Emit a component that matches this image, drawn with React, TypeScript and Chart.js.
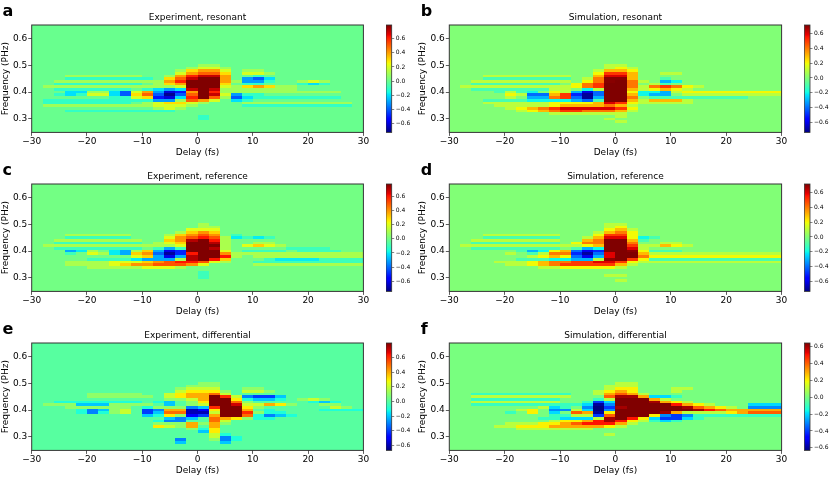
import React, { useEffect, useRef } from "react";
import { Chart, registerables } from "chart.js";

Chart.register(...registerables);
Chart.defaults.font.family = "'DejaVu Sans', sans-serif";
Chart.defaults.color = "#111";

// ---------- data ----------
const DELAYS = [-29, -27, -25, -23, -21, -19, -17, -15, -13, -11, -9, -7, -5, -3, -1, 1, 3, 5, 7, 9, 11, 13, 15, 17, 19, 21, 23, 25, 27, 29];
const FREQS = [0.5, 0.49, 0.48, 0.47, 0.46, 0.45, 0.44, 0.43, 0.42, 0.41, 0.4, 0.39, 0.38, 0.37, 0.36, 0.35, 0.34, 0.33, 0.32, 0.31, 0.3, 0.29, 0.28];
const X_TICKS = [-30, -20, -10, 0, 10, 20, 30];
const Y_TICKS = [0.3, 0.4, 0.5, 0.6];
const CB_TICKS = [-0.6, -0.4, -0.2, 0, 0.2, 0.4, 0.6];
const VALUE_UNIT = 0.1; // matrices are in tenths
const TITLES = ["Experiment, resonant", "Simulation, resonant", "Experiment, reference", "Simulation, reference", "Experiment, differential", "Simulation, differential"];
const LETTERS = ["a", "b", "c", "d", "e", "f"];
const CB_MIN = [-0.72, -0.73, -0.74, -0.74, -0.67, -0.63];
const CB_MAX = [0.79, 0.71, 0.77, 0.72, 0.8, 0.64];

const expResonant = [
  [0,0,0,0,0, 0,0,0,0,0, 0,0,0,0,0, 1,1,0,0,0, 0,0,0,0,0, 0,0,0,0,0],
  [0,0,0,0,0, 0,0,0,0,0, 0,0,0,0,1, 2,2,1,0,0, 0,0,0,0,0, 0,0,0,0,0],
  [0,0,0,0,0, 0,0,0,0,0, 0,0,0,1,3, 4,4,2,0,1, 1,0,0,0,0, 0,0,0,0,0],
  [0,0,0,0,0, 0,0,0,0,0, 0,0,0,2,4, 5,5,3,0,2, 2,1,0,0,0, 0,0,0,0,0],
  [0,0,0,1,1, 1,1,1,1,1, 0,0,1,4,6, 7,7,4,0,0, -1,0,0,0,0, 0,0,0,0,0],
  [0,0,0,-1,-1, -1,-1,-1,-1,-1, -1,0,3,5,7, 8,8,4,0,-3, -4,-2,0,0,0, 0,0,0,0,0],
  [0,0,1,1,1, 1,1,1,1,1, 1,1,4,6,8, 8,8,4,1,-3, -3,-1,0,0,1, 2,1,0,0,0],
  [0,0,-1,-1,-1, -1,-1,-1,-1,-1, 0,1,3,4,8, 9,8,3,0,-1, -1,0,0,0,-1, -2,-1,0,0,0],
  [0,1,1,1,1, 1,1,1,1,1, 1,1,1,2,8, 9,8,2,1,3, 4,3,1,1,0, 0,0,0,0,0],
  [0,0,-1,-1,-1, -1,-1,-1,-1,0, -1,-2,-3,-2,7, 9,7,1,1,1, 1,1,1,1,0, 0,0,0,0,0],
  [0,0,0,-2,-2, 1,1,-2,-4,2, 4,-3,-6,-5,4, 8,6,1,1,1, 1,1,1,1,1, 1,1,1,0,0],
  [0,0,-1,-2,-1, 2,2,-2,-4,3, 5,-4,-7,-4,5, 8,7,2,-3,-1, -1,0,0,0,0, 0,0,0,0,0],
  [0,0,0,0,0, 0,0,-1,-1,2, 3,-5,-6,-2,6, 8,5,1,-4,-2, -1,-1,-1,-1,-1, -1,-1,-1,0,0],
  [0,-1,-1,-1,-1, -1,-1,-1,-1,-1, -1,-3,-3,1,5, 4,2,0,-2,-1, 0,0,0,0,0, 0,0,0,0,0],
  [0,-1,-1,-1,-1, -1,-1,-1,-1,0, 1,2,3,3,2, 1,0,0,0,1, 1,1,1,1,1, 1,1,1,1,0],
  [0,1,1,1,1, 1,1,1,1,1, 1,2,2,2,1, 0,0,0,0,-1, -1,-1,-1,-1,-1, -1,-1,-1,-1,0],
  [0,0,0,0,0, 0,0,0,0,0, 0,1,2,1,0, 0,0,0,0,0, 0,0,0,0,0, 0,0,0,0,0],
  [0,0,0,-1,-1, -1,-1,-1,-1,-1, -1,-1,-1,0,0, 0,0,0,0,0, 0,0,0,0,0, 0,0,0,0,0],
  [0,0,0,0,0, 0,0,0,0,0, 0,0,0,0,0, 0,0,0,0,0, 0,0,0,0,0, 0,0,0,0,0],
  [0,0,0,0,0, 0,0,0,0,0, 0,0,0,0,0, -1,0,0,0,0, 0,0,0,0,0, 0,0,0,0,0],
  [0,0,0,0,0, 0,0,0,0,0, 0,0,0,0,0, -1,0,0,0,0, 0,0,0,0,0, 0,0,0,0,0],
  [0,0,0,0,0, 0,0,0,0,0, 0,0,0,0,0, 0,0,0,0,0, 0,0,0,0,0, 0,0,0,0,0],
  [0,0,0,0,0, 0,0,0,0,0, 0,0,0,0,0, 0,0,0,0,0, 0,0,0,0,0, 0,0,0,0,0],
];

const simResonant = [
  [0,0,0,0,0, 0,0,0,0,0, 0,0,0,0,1, 1,0,0,0,0, 0,0,0,0,0, 0,0,0,0,0],
  [0,0,0,0,0, 0,0,0,0,0, 0,0,0,0,1, 2,1,0,0,0, 0,0,0,0,0, 0,0,0,0,0],
  [0,0,0,0,0, 0,0,0,0,0, 0,0,0,1,3, 3,2,0,0,0, 0,0,0,0,0, 0,0,0,0,0],
  [0,0,0,0,0, 0,0,0,0,0, 0,0,0,2,5, 5,3,0,0,1, 1,0,0,0,0, 0,0,0,0,0],
  [0,0,0,1,1, 1,1,1,1,1, 1,0,0,3,6, 6,3,0,0,0, 0,0,0,0,0, 0,0,0,0,0],
  [0,0,0,-1,-1, -1,-1,-1,-1,-1, -1,0,1,4,7, 7,3,0,0,-1, 0,0,0,0,0, 0,0,0,0,0],
  [0,0,1,1,1, 1,1,1,1,1, 1,0,2,4,7, 8,4,1,0,-3, -2,0,0,0,0, 0,0,0,0,0],
  [0,0,-1,-1,-1, -1,-1,-1,-1,-1, 0,2,4,5,8, 8,4,0,1,-1, 0,0,0,0,0, 0,0,0,0,0],
  [0,1,1,1,1, 1,1,1,1,1, 1,2,4,5,9, 9,4,1,4,5, 4,2,1,0,0, 0,0,0,0,0],
  [0,0,-1,-1,-1, -1,-1,-1,-1,1, 1,0,-2,1,9, 9,3,1,2,3, 2,1,0,0,0, 0,0,0,0,0],
  [0,0,0,0,-1, 1,-1,-2,0,2, 1,-3,-6,-4,9, 9,2,-2,-2,-3, 1,2,2,2,2, 2,2,2,2,2],
  [0,0,0,0,0, 2,1,-4,-4,3, 5,-5,-7,-4,9, 9,3,-2,-3,-3, 0,1,1,1,1, 1,1,1,1,1],
  [0,0,0,0,0, 1,0,-3,-3,4, 5,-4,-7,-3,9, 9,4,0,-1,-1, -1,-1,-1,-1,-1, -1,-1,0,0,0],
  [0,0,0,-1,-1, -1,-1,-2,-2,-2, -2,-3,-4,-1,8, 8,3,1,3,3, 3,1,0,0,0, 0,0,0,0,0],
  [0,0,0,1,1, 1,1,1,1,2, 2,2,2,3,6, 5,2,1,1,1, 1,1,0,0,0, 0,0,0,0,0],
  [0,0,0,0,1, 1,1,1,1,2, 3,3,3,3,4, 3,1,0,0,0, 0,0,0,0,0, 0,0,0,0,0],
  [0,0,0,0,0, 1,2,3,4,5, 6,6,6,6,6, 5,2,0,0,0, 0,0,0,0,0, 0,0,0,0,0],
  [0,0,0,0,0, 0,1,2,3,4, 5,5,4,4,4, 3,1,0,0,0, 0,0,0,0,0, 0,0,0,0,0],
  [0,0,0,0,0, 0,0,0,0,1, 1,1,1,1,1, 1,0,0,0,0, 0,0,0,0,0, 0,0,0,0,0],
  [0,0,0,0,0, 0,0,0,0,0, 0,0,0,0,0, 1,0,0,0,0, 0,0,0,0,0, 0,0,0,0,0],
  [0,0,0,0,0, 0,0,0,0,0, 0,0,0,0,1, 0,0,0,0,0, 0,0,0,0,0, 0,0,0,0,0],
  [0,0,0,0,0, 0,0,0,0,0, 0,0,0,0,0, 1,0,0,0,0, 0,0,0,0,0, 0,0,0,0,0],
  [0,0,0,0,0, 0,0,0,0,0, 0,0,0,0,0, 0,0,0,0,0, 0,0,0,0,0, 0,0,0,0,0],
];

const expReference = [
  [0,0,0,0,0, 0,0,0,0,0, 0,0,0,0,0, 1,0,0,0,0, 0,0,0,0,0, 0,0,0,0,0],
  [0,0,0,0,0, 0,0,0,0,0, 0,0,0,0,0, 1,1,0,0,0, 0,0,0,0,0, 0,0,0,0,0],
  [0,0,0,0,0, 0,0,0,0,0, 0,0,0,0,2, 2,2,0,0,0, 0,0,0,0,0, 0,0,0,0,0],
  [0,0,0,0,0, 0,0,0,0,0, 0,0,0,1,3, 4,3,0,0,0, 0,0,0,0,0, 0,0,0,0,0],
  [0,0,0,1,1, 1,1,1,1,0, 0,0,1,3,4, 5,4,0,-1,0, 0,0,0,0,0, 0,0,0,0,0],
  [0,0,0,-1,-1, -1,-1,-1,-1,0, 0,0,2,4,5, 6,5,1,-2,-1, -2,-1,0,0,0, 0,0,0,0,0],
  [0,0,1,1,1, 1,1,1,1,1, 0,0,3,4,7, 8,6,1,0,0, 0,0,0,0,0, 0,0,0,0,0],
  [0,0,-1,-1,-1, -1,-1,-1,-1,-1, 0,1,2,3,9, 9,7,1,0,0, 1,1,0,0,0, 0,0,0,0,0],
  [0,1,1,1,1, 1,1,1,1,1, 1,1,1,2,9, 9,8,1,0,2, 3,2,1,0,0, 0,0,0,0,0],
  [0,0,-1,-1,-1, -1,-1,-1,-1,-1, 0,-1,-3,-1,9, 9,7,1,0,0, 0,0,0,-1,-1, -1,-1,0,0,0],
  [0,0,0,-3,-2, 1,0,-2,-3,1, 3,-3,-6,-5,8, 9,8,2,0,-1, -1,-1,-1,0,-1, -1,-1,-1,0,0],
  [0,0,0,-1,0, 2,1,-2,-3,3, 4,-4,-7,-5,6, 9,9,4,1,1, 1,1,1,1,1, 1,1,1,1,1],
  [0,0,0,0,0, 0,0,0,0,2, 3,-3,-6,-3,7, 9,9,6,1,0, 1,1,1,1,1, 1,1,1,1,1],
  [0,0,0,0,0, -1,-1,-1,-1,-2, -3,-3,-3,1,7, 8,6,3,0,0, 0,-1,-2,-2,-2, -2,-1,-1,-1,-1],
  [0,0,0,1,1, 1,1,2,2,2, 3,4,5,6,6, 5,2,1,0,0, -1,-1,-1,-1,-1, -1,-1,-1,-1,-1],
  [0,0,0,1,1, 1,1,2,3,4, 4,5,5,5,4, 2,0,0,0,0, 1,1,1,1,1, 1,1,1,1,1],
  [0,0,0,0,0, 1,1,1,1,1, 2,2,2,1,0, 0,0,0,0,0, 0,0,0,0,0, 0,0,0,0,0],
  [0,0,0,0,0, 0,0,0,0,0, 0,0,0,0,0, 0,0,0,0,0, 0,0,0,0,0, 0,0,0,0,0],
  [0,0,0,0,0, 0,0,0,0,0, 0,0,0,0,0, -1,0,0,0,0, 0,0,0,0,0, 0,0,0,0,0],
  [0,0,0,0,0, 0,0,0,0,0, 0,0,0,0,0, -1,0,0,0,0, 0,0,0,0,0, 0,0,0,0,0],
  [0,0,0,0,0, 0,0,0,0,0, 0,0,0,0,0, -1,0,0,0,0, 0,0,0,0,0, 0,0,0,0,0],
  [0,0,0,0,0, 0,0,0,0,0, 0,0,0,0,0, 0,0,0,0,0, 0,0,0,0,0, 0,0,0,0,0],
  [0,0,0,0,0, 0,0,0,0,0, 0,0,0,0,0, 0,0,0,0,0, 0,0,0,0,0, 0,0,0,0,0],
];

const simReference = [
  [0,0,0,0,0, 0,0,0,0,0, 0,0,0,0,1, 1,0,0,0,0, 0,0,0,0,0, 0,0,0,0,0],
  [0,0,0,0,0, 0,0,0,0,0, 0,0,0,0,1, 2,0,0,0,0, 0,0,0,0,0, 0,0,0,0,0],
  [0,0,0,0,0, 0,0,0,0,0, 0,0,0,0,2, 3,1,0,0,0, 0,0,0,0,0, 0,0,0,0,0],
  [0,0,0,0,0, 0,0,0,0,0, 0,0,0,1,3, 4,2,0,0,0, 0,0,0,0,0, 0,0,0,0,0],
  [0,0,0,1,1, 1,1,1,1,1, 0,0,0,2,5, 5,2,0,0,0, 0,0,0,0,0, 0,0,0,0,0],
  [0,0,0,-1,-1, -1,-1,-1,-1,-1, 0,0,1,3,6, 6,2,-2,-1,0, 0,0,0,0,0, 0,0,0,0,0],
  [0,0,1,1,1, 1,1,1,1,1, 0,0,3,4,8, 8,3,-1,0,0, 0,0,0,0,0, 0,0,0,0,0],
  [0,0,-1,-1,-1, -1,-1,-1,-1,-1, 0,2,4,4,9, 9,4,0,0,1, 1,0,0,0,0, 0,0,0,0,0],
  [0,1,1,1,1, 1,1,1,1,1, 1,1,2,3,9, 9,5,1,1,3, 2,1,0,0,0, 0,0,0,0,0],
  [0,0,-1,-1,-1, -1,-1,-1,-1,-1, 0,-1,-3,-2,9, 9,6,1,0,0, 0,0,0,0,0, 0,0,0,0,0],
  [0,0,0,0,0, 0,-1,-3,-2,2, 3,-4,-6,-5,8, 9,7,2,-1,-1, -1,0,0,0,0, 0,0,0,0,0],
  [0,0,0,0,0, 1,0,-1,1,4, 4,-5,-7,-4,6, 9,8,3,1,1, 1,1,1,1,1, 1,1,1,1,1],
  [0,0,0,0,0, 0,0,1,2,3, 2,-4,-6,-3,6, 9,8,4,2,2, 2,2,2,2,2, 2,2,2,2,2],
  [0,0,0,0,0, 0,-1,-1,-1,-2, -2,-3,-3,1,7, 8,5,2,-1,-1, -1,-1,-1,-1,-1, -1,-1,-1,-1,-1],
  [0,0,0,0,1, 1,1,2,3,4, 4,5,5,6,6, 5,2,1,1,1, 1,1,1,1,1, 1,1,1,1,1],
  [0,0,0,0,0, 1,1,2,3,4, 5,5,5,5,5, 3,1,0,0,0, 0,0,0,0,0, 0,0,0,0,0],
  [0,0,0,0,0, 0,0,0,1,1, 2,2,2,2,2, 1,0,0,0,0, 0,0,0,0,0, 0,0,0,0,0],
  [0,0,0,0,0, 0,0,0,0,0, 0,0,0,0,0, 0,0,0,0,0, 0,0,0,0,0, 0,0,0,0,0],
  [0,0,0,0,0, 0,0,0,0,0, 0,0,0,0,0, 0,0,0,0,0, 0,0,0,0,0, 0,0,0,0,0],
  [0,0,0,0,0, 0,0,0,0,0, 0,0,0,0,1, 1,0,0,0,0, 0,0,0,0,0, 0,0,0,0,0],
  [0,0,0,0,0, 0,0,0,0,0, 0,0,0,0,0, 0,0,0,0,0, 0,0,0,0,0, 0,0,0,0,0],
  [0,0,0,0,0, 0,0,0,0,0, 0,0,0,0,0, 1,0,0,0,0, 0,0,0,0,0, 0,0,0,0,0],
  [0,0,0,0,0, 0,0,0,0,0, 0,0,0,0,0, 0,0,0,0,0, 0,0,0,0,0, 0,0,0,0,0],
];

const expDifferential = [
  [0,0,0,0,0, 0,0,0,0,0, 0,0,0,0,0, 1,1,0,0,0, 0,0,0,0,0, 0,0,0,0,0],
  [0,0,0,0,0, 0,0,0,0,0, 0,0,0,0,1, 1,1,0,0,0, 0,0,0,0,0, 0,0,0,0,0],
  [0,0,0,0,0, 0,0,0,0,0, 0,0,0,1,2, 2,2,0,0,1, 1,0,0,0,0, 0,0,0,0,0],
  [0,0,0,0,0, 0,0,0,0,0, 0,0,0,2,3, 3,3,1,0,2, 2,1,0,0,0, 0,0,0,0,0],
  [0,0,0,0,0, 1,1,1,1,1, 0,0,2,3,4, 4,5,2,0,0, 0,0,0,0,0, 0,0,0,0,0],
  [0,0,0,0,0, 1,1,1,1,1, 1,0,2,3,4, 4,8,6,2,-3, -4,-4,-2,0,0, 0,0,0,0,0],
  [0,0,0,0,0, 0,0,0,0,0, 0,0,1,1,2, 4,9,8,3,-1, -2,-2,-1,0,1, 2,1,0,0,0],
  [0,0,-1,-1,-1, -1,-1,-1,-1,-1, 0,-1,-2,0,1, 3,9,9,5,1, 0,0,0,0,0, -1,-2,-1,0,0],
  [0,1,1,1,-2, -2,-2,1,1,1, 1,0,-2,0,1, 2,8,9,7,2, 2,4,3,1,0, 0,1,1,0,0],
  [0,0,0,1,1, 1,1,1,1,0, -1,1,1,1,-3, -2,6,9,8,3, 1,0,0,0,0, 0,0,2,1,0],
  [0,0,0,0,-1, -3,-2,1,2,0, -4,-3,4,4,-6, -5,3,9,9,4, 0,-1,0,0,0, 0,-1,-1,-1,-1],
  [0,0,0,0,-1, -3,-1,1,2,0, -4,-2,5,5,-6, -6,2,8,9,6, 1,-1,-1,0,0, 0,0,0,0,0],
  [0,0,0,0,0, 0,0,0,0,0, -2,-1,3,1,-5, -4,4,8,8,5, -1,-3,-2,-1,0, 0,0,0,0,0],
  [0,0,0,0,0, 0,0,0,0,0, 0,0,-2,-3,-2, 0,5,4,3,1, -1,-1,0,0,0, 0,0,0,0,0],
  [0,0,0,0,0, 0,0,0,0,0, 0,-1,-3,-3,0, 0,5,2,0,0, 0,0,0,0,0, 0,0,0,0,0],
  [0,0,0,0,0, 0,0,0,0,0, 0,1,1,1,4, 1,4,1,0,0, 0,0,0,0,0, 0,0,0,0,0],
  [0,0,0,0,0, 0,0,0,0,0, 0,3,2,1,4, 0,4,0,0,0, 0,0,0,0,0, 0,0,0,0,0],
  [0,0,0,0,0, 0,0,0,0,0, 0,0,0,0,1, -1,3,0,0,0, 0,0,0,0,0, 0,0,0,0,0],
  [0,0,0,0,0, 0,0,0,0,0, 0,0,0,0,0, -2,3,0,0,0, 0,0,0,0,0, 0,0,0,0,0],
  [0,0,0,0,0, 0,0,0,0,0, 0,0,0,0,0, 0,2,-1,0,0, 0,0,0,0,0, 0,0,0,0,0],
  [0,0,0,0,0, 0,0,0,0,0, 0,0,0,0,0, 0,2,-3,-1,0, 0,0,0,0,0, 0,0,0,0,0],
  [0,0,0,0,0, 0,0,0,0,0, 0,0,0,-3,0, 0,1,-3,-1,0, 0,0,0,0,0, 0,0,0,0,0],
  [0,0,0,0,0, 0,0,0,0,0, 0,0,0,-2,0, 0,0,-2,0,0, 0,0,0,0,0, 0,0,0,0,0],
];

const simDifferential = [
  [0,0,0,0,0, 0,0,0,0,0, 0,0,0,0,0, 1,1,0,0,0, 0,0,0,0,0, 0,0,0,0,0],
  [0,0,0,0,0, 0,0,0,0,0, 0,0,0,0,1, 1,1,0,0,0, 0,0,0,0,0, 0,0,0,0,0],
  [0,0,0,0,0, 0,0,0,0,0, 0,0,0,0,1, 2,2,0,0,0, 1,1,0,0,0, 0,0,0,0,0],
  [0,0,0,0,0, 0,0,0,0,0, 0,0,0,1,2, 3,2,0,0,0, 1,0,0,0,0, 0,0,0,0,0],
  [0,0,-1,-1,-1, -1,-1,-1,-1,-1, -1,0,0,1,3, 4,3,1,0,0, 0,0,0,0,0, 0,0,0,0,0],
  [0,0,1,1,1, 1,1,1,1,1, 1,0,0,0,4, 6,6,3,-2,-2, -1,0,0,0,0, 0,0,0,0,0],
  [0,0,-1,-1,-1, -1,-1,-1,-1,-1, 0,0,0,-1,1, 8,9,7,3,1, 0,0,0,0,0, 0,0,0,0,0],
  [0,0,1,1,1, 1,1,1,1,1, 0,0,-1,-4,-2, 8,9,9,6,3, 2,1,0,0,0, 0,0,0,0,0],
  [0,0,-1,-1,-1, -1,-1,-1,-1,-1, -1,-1,-2,-6,-3, 7,9,9,9,7, 5,3,2,1,0, 0,0,-2,-2,-2],
  [0,0,0,0,0, 0,0,0,1,-2, -1,0,-3,-7,-4, 6,9,9,9,8, 7,6,4,3,2, 1,0,-3,-3,-3],
  [0,0,0,0,0, 0,1,2,0,-3, -3,1,-2,-7,-3, 7,9,9,9,9, 8,7,6,5,4, 3,3,3,3,3],
  [0,0,0,0,0, -1,0,2,0,-2, 0,4,3,-6,2, 8,9,9,8,6, 3,1,1,1,1, 2,3,4,4,4],
  [0,0,0,0,0, 0,0,0,0,-1, -1,1,1,-4,4, 8,9,7,2,-3, -4,-3,-1,-1,-1, -1,-1,-1,-1,-1],
  [0,0,0,0,0, 0,0,0,-1,-1, -2,-2,-2,1,6, 7,5,2,-2,-4, -4,-2,-1,0,0, 0,0,0,0,0],
  [0,0,0,0,0, 0,0,0,0,1, 2,2,3,5,6, 5,2,1,-1,-2, -1,0,0,0,0, 0,0,0,0,0],
  [0,0,0,0,0, 1,1,1,2,2, 3,4,5,5,5, 3,1,0,0,0, 0,0,0,0,0, 0,0,0,0,0],
  [0,0,0,0,1, 1,2,2,2,3, 3,3,3,3,2, 1,0,0,0,0, 0,0,0,0,0, 0,0,0,0,0],
  [0,0,0,0,0, 0,1,1,1,1, 1,1,1,0,0, 0,0,0,0,0, 0,0,0,0,0, 0,0,0,0,0],
  [0,0,0,0,0, 0,0,0,0,0, 0,0,0,0,0, 0,0,0,0,0, 0,0,0,0,0, 0,0,0,0,0],
  [0,0,0,0,0, 0,0,0,0,0, 0,0,0,0,1, 0,0,0,0,0, 0,0,0,0,0, 0,0,0,0,0],
  [0,0,0,0,0, 0,0,0,0,0, 0,0,0,0,0, 0,0,0,0,0, 0,0,0,0,0, 0,0,0,0,0],
  [0,0,0,0,0, 0,0,0,0,0, 0,0,0,0,0, 0,0,0,0,0, 0,0,0,0,0, 0,0,0,0,0],
  [0,0,0,0,0, 0,0,0,0,0, 0,0,0,0,0, 0,0,0,0,0, 0,0,0,0,0, 0,0,0,0,0],
];

const MATRICES = [expResonant, simResonant, expReference, simReference, expDifferential, simDifferential];

// ---------- layout ----------
const FONT = "'DejaVu Sans', sans-serif";
const CANVAS_LEFT = [0, 417];
const Y_AXIS_W = [31.7, 32.3];
const AREA_W = [331.7, 332.3];
const ROW_TOP = [25, 184, 343];
const AREA_H = 107.4;
const TITLE_H = 25;
const X_AXIS_H = 28;
const HM_CANVAS_W = 378;
const HM_CANVAS_H = 161;
const CB_LEFT = [386, 804];
const CB_PAD_LEFT = [0, 0.3];
const CB_W = 5.7;
const CB_AXIS_W = 30;
const CB_PAD_V = 6;
const LETTER_LEFT = [2.5, 420.7];

// ---------- colormap (jet) ----------
const JET_R = [[0, 0], [0.35, 0], [0.66, 1], [0.89, 1], [1, 0.5]];
const JET_G = [[0, 0], [0.125, 0], [0.375, 1], [0.64, 1], [0.91, 0], [1, 0]];
const JET_B = [[0, 0.5], [0.11, 1], [0.34, 1], [0.65, 0], [1, 0]];
function seg(t: number, pts: number[][]) {
  for (let i = 1; i < pts.length; i++) {
    if (t <= pts[i][0]) {
      const [x0, y0] = pts[i - 1];
      const [x1, y1] = pts[i];
      return y0 + ((t - x0) / (x1 - x0)) * (y1 - y0);
    }
  }
  return pts[pts.length - 1][1];
}
function jet(t: number) {
  const u = Math.max(0, Math.min(1, t));
  const r = Math.round(seg(u, JET_R) * 255);
  const g = Math.round(seg(u, JET_G) * 255);
  const b = Math.round(seg(u, JET_B) * 255);
  return `rgb(${r},${g},${b})`;
}
const colorFor = (v: number, vmin: number, vmax: number) => jet((v - vmin) / (vmax - vmin));

const minus = (s: string) => s.replace("-", "\u2212");

const heatmapPlugin = {
  id: "heatmap",
  beforeDatasetsDraw(chart: any, _args: any, opts: any) {
    const { ctx, chartArea: a, scales } = chart;
    const xs = scales.x;
    const ys = scales.y;
    ctx.save();
    ctx.beginPath();
    ctx.rect(a.left, a.top, a.right - a.left, a.bottom - a.top);
    ctx.clip();
    ctx.fillStyle = colorFor(0, opts.vmin, opts.vmax);
    ctx.fillRect(a.left, a.top, a.right - a.left, a.bottom - a.top);
    const pts = chart.data.datasets[0].data;
    for (const p of pts) {
      if (p.v === 0) continue;
      const x0 = Math.round(xs.getPixelForValue(p.x - opts.dx / 2));
      const x1 = Math.round(xs.getPixelForValue(p.x + opts.dx / 2));
      const y0 = Math.round(ys.getPixelForValue(p.y + opts.dy / 2));
      const y1 = Math.round(ys.getPixelForValue(p.y - opts.dy / 2));
      ctx.fillStyle = colorFor(p.v, opts.vmin, opts.vmax);
      ctx.fillRect(x0, y0, x1 - x0, y1 - y0);
    }
    ctx.restore();
  },
  afterDraw(chart: any) {
    const { ctx, chartArea: a } = chart;
    ctx.save();
    ctx.strokeStyle = "#333";
    ctx.lineWidth = 1;
    ctx.strokeRect(a.left, a.top, a.right - a.left, a.bottom - a.top);
    ctx.restore();
  },
};

const framePlugin = {
  id: "frame",
  afterDraw(chart: any) {
    const { ctx, chartArea: a } = chart;
    ctx.save();
    ctx.strokeStyle = "#333";
    ctx.lineWidth = 0.8;
    ctx.strokeRect(a.left, a.top, a.right - a.left, a.bottom - a.top);
    ctx.restore();
  },
};

function Heatmap({ k }: { k: number }) {
  const ref = useRef<HTMLCanvasElement>(null);
  const col = k % 2;
  const row = Math.floor(k / 2);
  useEffect(() => {
    const matrix = MATRICES[k];
    const points: any[] = [];
    FREQS.forEach((f, r) =>
      DELAYS.forEach((d, c) => points.push({ x: d, y: f, v: matrix[r][c] * VALUE_UNIT }))
    );
    const padRight = HM_CANVAS_W - Y_AXIS_W[col] - AREA_W[col];
    const padBottom = HM_CANVAS_H - TITLE_H - AREA_H - X_AXIS_H;
    const chart = new Chart(ref.current!, {
      type: "scatter",
      data: { datasets: [{ data: points, pointRadius: 0, pointHoverRadius: 0 }] },
      options: {
        animation: false,
        responsive: false,
        events: [],
        layout: { padding: { left: 0, right: padRight, top: 0, bottom: padBottom } },
        plugins: {
          legend: { display: false },
          tooltip: { enabled: false },
          title: {
            display: true,
            text: TITLES[k],
            fullSize: false,
            color: "#000",
            font: { family: FONT, size: 9, weight: "normal" },
            padding: { top: 12.6, bottom: 1.6 },
          },
          heatmap: {
            vmin: CB_MIN[k],
            vmax: CB_MAX[k],
            dx: DELAYS[1] - DELAYS[0],
            dy: FREQS[0] - FREQS[1],
          },
        } as any,
        scales: {
          x: {
            type: "linear",
            min: -30,
            max: 30,
            afterBuildTicks: (s: any) => { s.ticks = X_TICKS.map((v) => ({ value: v })); },
            afterFit: (s: any) => { s.height = X_AXIS_H; },
            ticks: {
              autoSkip: false,
              maxRotation: 0,
              padding: 0,
              color: "#000",
              font: { family: FONT, size: 9 },
              callback: (v: any) => minus(String(v)),
            },
            grid: { drawOnChartArea: false, drawTicks: true, tickLength: 3.5, color: "#333", lineWidth: 0.8 },
            border: { display: false },
            title: {
              display: true,
              text: "Delay (fs)",
              color: "#000",
              font: { family: FONT, size: 9 },
              padding: { top: 0, bottom: 2.2 },
            },
          },
          y: {
            type: "linear",
            min: 0.25,
            max: 0.65,
            afterBuildTicks: (s: any) => { s.ticks = Y_TICKS.map((v) => ({ value: v })); },
            afterFit: (s: any) => { s.width = Y_AXIS_W[col]; },
            ticks: {
              autoSkip: false,
              padding: 1,
              color: "#000",
              font: { family: FONT, size: 9 },
              callback: (v: any) => Number(v).toFixed(1),
            },
            grid: { drawOnChartArea: false, drawTicks: true, tickLength: 3.5, color: "#333", lineWidth: 0.8 },
            border: { display: false },
            title: {
              display: true,
              text: "Frequency (PHz)",
              color: "#000",
              font: { family: FONT, size: 9 },
              padding: { top: 0.5, bottom: 0 },
            },
          },
        },
      },
      plugins: [heatmapPlugin],
    } as any);
    return () => chart.destroy();
  }, []);
  return (
    <canvas
      ref={ref}
      width={HM_CANVAS_W}
      height={HM_CANVAS_H}
      style={{
        position: "absolute",
        left: CANVAS_LEFT[col],
        top: ROW_TOP[row] - TITLE_H,
        width: HM_CANVAS_W,
        height: HM_CANVAS_H,
      }}
    />
  );
}

function Colorbar({ k }: { k: number }) {
  const ref = useRef<HTMLCanvasElement>(null);
  const col = k % 2;
  const row = Math.floor(k / 2);
  const vmin = CB_MIN[k];
  const vmax = CB_MAX[k];
  const cw = Math.ceil(CB_PAD_LEFT[col] + CB_W + CB_AXIS_W);
  const ch = Math.round(AREA_H + 2 * CB_PAD_V);
  useEffect(() => {
    const chart = new Chart(ref.current!, {
      type: "bar",
      data: {
        labels: [""],
        datasets: [
          {
            data: [[vmin, vmax]],
            borderWidth: 0,
            barPercentage: 1,
            categoryPercentage: 1,
            backgroundColor: (c: any) => {
              const ch2 = c.chart;
              if (!ch2.chartArea || !ch2.scales.y) return colorFor(0, vmin, vmax);
              const ys = ch2.scales.y;
              const g = ch2.ctx.createLinearGradient(0, ys.getPixelForValue(vmin), 0, ys.getPixelForValue(vmax));
              for (let s = 0; s <= 100; s++) g.addColorStop(s / 100, jet(s / 100));
              return g;
            },
          },
        ],
      },
      options: {
        animation: false,
        responsive: false,
        events: [],
        layout: {
          padding: {
            left: CB_PAD_LEFT[col],
            right: cw - CB_PAD_LEFT[col] - CB_W - CB_AXIS_W,
            top: CB_PAD_V,
            bottom: ch - CB_PAD_V - AREA_H,
          },
        },
        plugins: { legend: { display: false }, tooltip: { enabled: false } },
        scales: {
          x: { display: false },
          y: {
            position: "right",
            min: vmin,
            max: vmax,
            afterBuildTicks: (s: any) => { s.ticks = CB_TICKS.map((v) => ({ value: v })); },
            afterFit: (s: any) => { s.width = CB_AXIS_W; },
            ticks: {
              autoSkip: false,
              padding: 1.5,
              color: "#000",
              font: { family: FONT, size: 6 },
              callback: (v: any) => minus(Number(v).toFixed(1)),
            },
            grid: { drawOnChartArea: false, drawTicks: true, tickLength: 2.5, color: "#333", lineWidth: 0.6 },
            border: { display: false },
          },
        },
      },
      plugins: [framePlugin],
    } as any);
    return () => chart.destroy();
  }, []);
  return (
    <canvas
      ref={ref}
      width={cw}
      height={ch}
      style={{
        position: "absolute",
        left: CB_LEFT[col],
        top: ROW_TOP[row] - CB_PAD_V,
        width: cw,
        height: ch,
      }}
    />
  );
}

function Letter({ k }: { k: number }) {
  const col = k % 2;
  const row = Math.floor(k / 2);
  return (
    <div
      style={{
        position: "absolute",
        left: LETTER_LEFT[col],
        top: ROW_TOP[row] - 22.5,
        fontFamily: FONT,
        fontWeight: "bold",
        fontSize: 16,
        lineHeight: "16px",
        color: "#000",
      }}
    >
      {LETTERS[k]}
    </div>
  );
}

export default function App() {
  return (
    <div
      style={{
        position: "absolute",
        left: 0,
        top: 0,
        width: 831,
        height: 477,
        overflow: "hidden",
        background: "#fff",
      }}
    >
      {TITLES.map((_, k) => (
        <React.Fragment key={k}>
          <Heatmap k={k} />
          <Colorbar k={k} />
          <Letter k={k} />
        </React.Fragment>
      ))}
    </div>
  );
}
